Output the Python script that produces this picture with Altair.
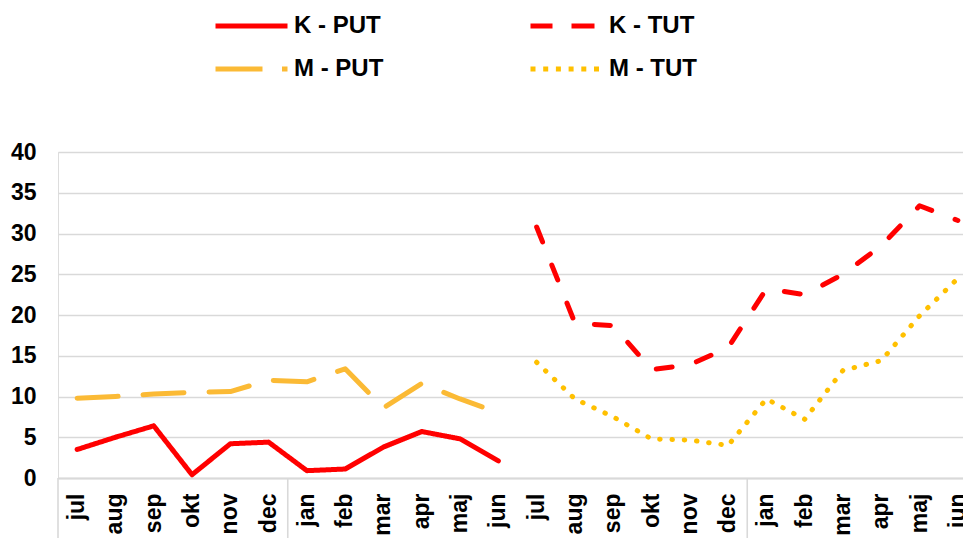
import altair as alt
import pandas as pd

months = ["jul", "aug", "sep", "okt", "nov", "dec", "jan", "feb", "mar", "apr", "maj", "jun"]
k_put = [3.5, 5.0, 6.4, 0.4, 4.2, 4.4, 0.9, 1.1, 3.8, 5.7, 4.8, 2.1]
m_put = [9.8, 10.0, 10.3, 10.5, 10.6, 12.0, 11.8, 13.4, 8.6, 11.6, 9.7, 8.0]
k_tut = [30.8, 19.0, 18.7, 13.3, 13.9, 16.0, 23.2, 22.5, 25.0, 28.5, 33.4, 31.6]
m_tut = [14.2, 9.7, 7.5, 4.8, 4.65, 4.0, 9.7, 7.2, 13.2, 14.4, 19.9, 24.5]

series = ["K - PUT", "M - PUT", "K - TUT", "M - TUT"]
colors = ["#FF0000", "#FBBA35", "#FF0000", "#FFC000"]
line_dashes = [[1, 0], [41, 25], [16, 25], [0.5, 11.8]]
legend_dashes = [[1, 0], [47, 19.5, 5.5, 10], [22, 19, 23, 20], [5, 7.7]]

keys1 = [m + "|1" for m in months]
keys2 = [m + "|2" for m in months]
keys = keys1 + keys2
separators = ["jul|1", "jan|1", "jan|2"]

rows = []
for k, v in zip(keys1, k_put):
    rows.append({"key": k, "series": "K - PUT", "value": v})
for k, v in zip(keys1, m_put):
    rows.append({"key": k, "series": "M - PUT", "value": v})
for k, v in zip(keys2, k_tut):
    rows.append({"key": k, "series": "K - TUT", "value": v})
for k, v in zip(keys2, m_tut):
    rows.append({"key": k, "series": "M - TUT", "value": v})
df = pd.DataFrame(rows)
legend_df = df.groupby("series", sort=False).head(1).reset_index(drop=True)
sep_df = pd.DataFrame({"key": separators})

FONT = "Liberation Sans"
W, H = 905, 326
XRANGE = 919

xscale = alt.Scale(type="band", domain=keys, paddingInner=0, paddingOuter=0,
                   range=[0, XRANGE])
yscale = alt.Scale(domain=[0, 40], nice=False)

xaxis = alt.Axis(title=None, labelAngle=270, labelPadding=15, labelFontSize=23,
                 labelFontWeight="bold", labelColor="black", labelFont=FONT,
                 ticks=False, grid=False, domainColor="#d9d9d9", domainWidth=2,
                 labelExpr="split(datum.value, '|')[0]")
yaxis = alt.Axis(title=None, values=[0, 5, 10, 15, 20, 25, 30, 35, 40],
                 domain=False, ticks=False, labelPadding=22, labelFontSize=23,
                 labelFontWeight="bold", labelColor="black", labelFont=FONT,
                 gridColor="#d9d9d9", gridWidth=1.6)

leg = alt.Legend(title=None, orient="none", legendX=155, legendY=-140,
                 columns=2, symbolType="stroke", symbolSize=5184,
                 symbolStrokeWidth=5, labelFontSize=24,
                 labelFontWeight="bold", labelColor="black",
                 labelFont=FONT, labelOffset=4, columnPadding=144,
                 rowPadding=15, clipHeight=28, padding=0)

layers = []

seps = alt.Chart(sep_df).mark_rule(color="#d9d9d9", strokeWidth=1.6).encode(
    x=alt.X("key:N", scale=xscale, sort=keys, bandPosition=0, axis=xaxis),
    y=alt.value(H),
    y2=alt.value(H + 90),
)
layers.append(seps)

for s, c, d in zip(series, colors, line_dashes):
    layer = alt.Chart(df[df["series"] == s]).mark_line(
        strokeWidth=5, strokeCap="round", strokeJoin="round", color=c, strokeDash=d
    ).encode(
        x=alt.X("key:N", scale=xscale, sort=keys, axis=xaxis),
        y=alt.Y("value:Q", scale=yscale, axis=yaxis),
    )
    layers.append(layer)

# single-point lines (draw nothing with butt caps) that carry the legend
legend_layer = alt.Chart(legend_df).mark_line(strokeWidth=5, strokeCap="butt").encode(
    x=alt.X("key:N", scale=xscale, sort=keys, axis=xaxis),
    y=alt.Y("value:Q", scale=yscale, axis=yaxis),
    color=alt.Color("series:N", scale=alt.Scale(domain=series, range=colors), legend=leg),
    strokeDash=alt.StrokeDash("series:N", scale=alt.Scale(domain=series, range=legend_dashes),
                              legend=leg),
    detail="series:N",
)
layers.append(legend_layer)

chart = alt.layer(*layers).properties(
    width=W, height=H,
    autosize=alt.AutoSizeParams(type="none"),
    padding={"left": 50, "top": 144, "right": 0, "bottom": 80},
).configure_view(stroke=None).configure(font=FONT, background="white")

chart.save("out.html", embed_options={"renderer": "svg", "actions": False})
